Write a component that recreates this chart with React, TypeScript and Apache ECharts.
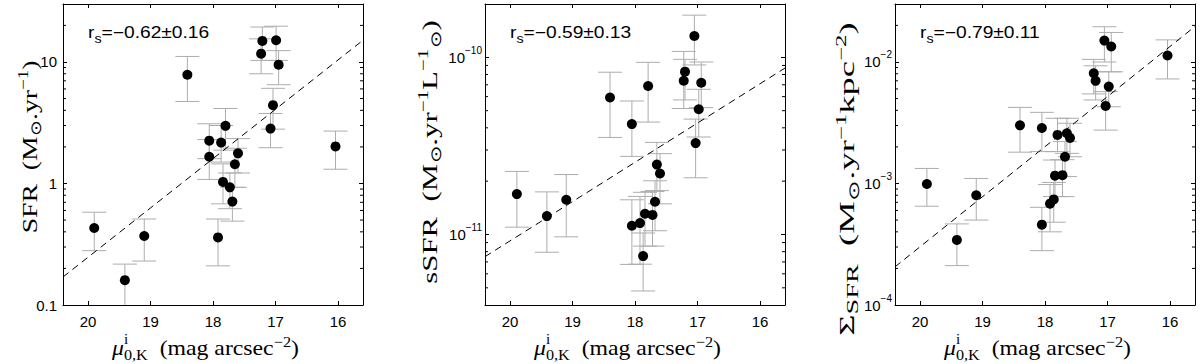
import React, { useEffect, useRef } from 'react';
import * as echarts from 'echarts';

// ---------- data ----------
// x: central surface brightness mu^i_{0,K} (mag arcsec^-2)
const X_MIN = 15.6;
const X_MAX = 20.4;

// Panel 1: SFR (Msun/yr)
const MU_SFR = [19.90, 19.41, 19.10, 18.41, 18.06, 18.06, 17.87, 17.80, 17.84, 17.60, 17.65, 17.73, 17.69, 17.92, 17.21, 17.23, 16.99, 16.95, 17.04, 17.08, 16.04];
const SFR = [0.43, 0.16, 0.37, 7.85, 2.25, 1.66, 2.17, 2.98, 1.03, 1.77, 1.44, 0.93, 0.71, 0.36, 14.9, 11.7, 15.1, 9.5, 4.41, 2.83, 2.02];
const SFR_LO = [0.28, 0.085, 0.23, 4.73, 1.6, 1.08, 1.5, 1.88, 0.68, 1.22, 0.93, 0.62, 0.49, 0.21, 10.3, 8.0, 10.3, 6.5, 2.8, 1.97, 1.31];
const SFR_HI = [0.58, 0.217, 0.51, 11.1, 3.1, 2.3, 3.0, 4.14, 1.45, 2.34, 1.95, 1.22, 0.93, 0.51, 19.4, 15.5, 19.7, 12.4, 6.07, 3.77, 2.7];
const FIT_MU = [20.4, 15.6];
const FIT_SFR = [0.17, 15.1];

// Panel 2: sSFR (Msun/yr/Lsun)
const MU_SSFR = [19.89, 19.41, 19.10, 18.40, 18.05, 17.79, 18.05, 17.92, 17.84, 17.87, 17.72, 17.68, 17.65, 17.60, 17.22, 17.20, 17.05, 16.94, 16.98, 17.03];
const SSFR = [1.69e-11, 1.27e-11, 1.57e-11, 5.93e-11, 4.20e-11, 6.89e-11, 1.12e-11, 1.16e-11, 1.31e-11, 7.55e-12, 1.29e-11, 1.53e-11, 2.48e-11, 2.21e-11, 7.38e-11, 8.30e-11, 1.32e-10, 7.19e-11, 5.09e-11, 3.28e-11];
const SSFR_LO = [1.10e-11, 7.94e-12, 9.7e-12, 3.53e-11, 2.76e-11, 4.31e-11, 6.78e-12, 6.8e-12, 8.6e-12, 4.8e-12, 8.6e-12, 1.05e-11, 1.77e-11, 1.49e-11, 5.14e-11, 5.75e-11, 9.06e-11, 5.2e-11, 3.55e-11, 2.09e-11];
const SSFR_HI = [2.27e-11, 1.74e-11, 2.18e-11, 8.24e-11, 5.67e-11, 9.37e-11, 1.57e-11, 1.64e-11, 1.73e-11, 1.02e-11, 1.75e-11, 2.01e-11, 3.31e-11, 2.86e-11, 1.08e-10, 9.74e-11, 1.73e-10, 9.41e-11, 6.6e-11, 4.48e-11];
const FIT_SSFR = [7.5e-12, 8.7e-11];

// Panel 3: Sigma_SFR (Msun/yr/kpc^2)
const MU_SIG = [19.89, 19.41, 19.10, 18.40, 18.05, 18.05, 17.92, 17.86, 17.84, 17.80, 17.72, 17.68, 17.65, 17.60, 17.22, 17.19, 17.05, 16.94, 16.98, 17.03, 16.04];
const SIG = [9.9e-4, 3.43e-4, 8.0e-4, 3.01e-3, 2.86e-3, 4.58e-4, 6.82e-4, 7.4e-4, 1.16e-3, 2.51e-3, 1.17e-3, 1.66e-3, 2.59e-3, 2.37e-3, 8.07e-3, 7.0e-3, 1.50e-2, 1.34e-2, 6.27e-3, 4.35e-3, 1.13e-2];
const SIG_LO = [6.5e-4, 2.11e-4, 5.0e-4, 1.81e-3, 1.83e-3, 2.8e-4, 4.0e-4, 4.8e-4, 7.8e-4, 1.83e-3, 7.8e-4, 1.14e-3, 1.77e-3, 1.66e-3, 5.46e-3, 4.87e-3, 1.0e-2, 8.3e-3, 4.28e-3, 2.75e-3, 7.25e-3];
const SIG_HI = [1.33e-3, 4.65e-4, 1.10e-3, 4.23e-3, 3.85e-3, 6.37e-4, 9.8e-4, 1.02e-3, 1.56e-3, 3.44e-3, 1.57e-3, 2.21e-3, 3.44e-3, 3.13e-3, 1.05e-2, 9.3e-3, 1.95e-2, 1.75e-2, 8.3e-3, 5.7e-3, 1.52e-2];
const FIT_SIG = [2.06e-4, 1.96e-2];

// axis ranges and minor log ticks
const Y_RANGES = [[0.1, 30], [4e-12, 2e-10], [1e-4, 3e-2]];
const MINOR_SFR = [0.2, 0.3, 0.4, 0.5, 0.6, 0.7, 0.8, 0.9, 2, 3, 4, 5, 6, 7, 8, 9, 20];
const MINOR_SSFR = [5e-12, 6e-12, 7e-12, 8e-12, 9e-12, 2e-11, 3e-11, 4e-11, 5e-11, 6e-11, 7e-11, 8e-11, 9e-11];
const MINOR_SIG = [2e-4, 3e-4, 4e-4, 5e-4, 6e-4, 7e-4, 8e-4, 9e-4, 2e-3, 3e-3, 4e-3, 5e-3, 6e-3, 7e-3, 8e-3, 9e-3, 2e-2];

const RS_TEXT = ['=\u22120.62\u00b10.16', '=\u22120.59\u00b10.13', '=\u22120.79\u00b10.11'];

// ---------- layout / style ----------
const SANS = '"Liberation Sans", Arial, Helvetica, sans-serif';
const SERIF = '"Liberation Serif", "Times New Roman", serif';
const LEFTS = [63, 485, 895];
const TOP = 4;
const W = 300;
const H = 301;
const ERR_COLOR = '#adadad';

function isPow10(v: number) {
  const l = Math.log10(v);
  return Math.abs(l - Math.round(l)) < 1e-6;
}

const fmtX = (v: number) => (Math.abs(v - Math.round(v)) < 1e-6 ? String(Math.round(v)) : '');
const fmtPlain = (v: number) => (isPow10(v) ? String(Number(v.toPrecision(3))) : '');
const fmtSci = (v: number) =>
  isPow10(v) ? `{b|10}{s|\u2212${Math.abs(Math.round(Math.log10(v)))}}` : '';

const titleRich = {
  n: { fontFamily: SERIF, fontSize: 22, lineHeight: 28, color: '#000' },
  it: { fontFamily: SERIF, fontSize: 22, lineHeight: 28, fontStyle: 'italic', color: '#000' },
  sup: { fontFamily: SERIF, fontSize: 15, lineHeight: 16, verticalAlign: 'top', color: '#000' },
  sub: { fontFamily: SERIF, fontSize: 15, lineHeight: 12, verticalAlign: 'bottom', color: '#000' },
  subX: { fontFamily: SERIF, fontSize: 15, lineHeight: 16, verticalAlign: 'bottom', color: '#000' },
  subL: { fontFamily: SERIF, fontSize: 17, lineHeight: 12, verticalAlign: 'bottom', color: '#000' },
};

function buildOption() {
  const panels = [
    { mu: MU_SFR, v: SFR, lo: SFR_LO, hi: SFR_HI, fit: FIT_SFR, minor: MINOR_SFR, sci: false, margin: 6 },
    { mu: MU_SSFR, v: SSFR, lo: SSFR_LO, hi: SSFR_HI, fit: FIT_SSFR, minor: MINOR_SSFR, sci: true, margin: 3 },
    { mu: MU_SIG, v: SIG, lo: SIG_LO, hi: SIG_HI, fit: FIT_SIG, minor: MINOR_SIG, sci: true, margin: 3 },
  ];

  const grid: any[] = [];
  const xAxis: any[] = [];
  const yAxis: any[] = [];
  const series: any[] = [];
  const elements: any[] = [];

  const axLine = { show: true, onZero: false, lineStyle: { color: '#000', width: 1 } };
  const axTick = { show: true, inside: true, length: 4, lineStyle: { color: '#000', width: 1 } };

  panels.forEach((p, i) => {
    grid.push({ left: LEFTS[i], top: TOP, width: W, height: H, containLabel: false, outerBoundsMode: 'none' });
    const xc = {
      gridIndex: i, type: 'value', min: X_MIN, max: X_MAX, inverse: true, splitNumber: 5,
      splitLine: { show: false }, axisLine: axLine, axisTick: axTick,
    };
    xAxis.push({
      ...xc, position: 'bottom',
      axisLabel: { show: true, formatter: fmtX, color: '#000', fontFamily: SANS, fontSize: 15, margin: 9 },
    });
    xAxis.push({ ...xc, position: 'top', axisLabel: { show: false } });
    const yc = {
      gridIndex: i, type: 'log', logBase: 10, min: Y_RANGES[i][0], max: Y_RANGES[i][1],
      splitLine: { show: false }, minorTick: { show: false }, axisLine: axLine, axisTick: axTick,
    };
    yAxis.push({
      ...yc, position: 'left',
      axisLabel: p.sci
        ? {
            show: true, formatter: fmtSci, margin: p.margin,
            rich: {
              b: { fontFamily: SANS, fontSize: 15, lineHeight: 24, color: '#000' },
              s: { fontFamily: SANS, fontSize: 10, lineHeight: 12, verticalAlign: 'top', color: '#000' },
            },
          }
        : { show: true, formatter: fmtPlain, margin: p.margin, color: '#000', fontFamily: SANS, fontSize: 15 },
    });
    yAxis.push({ ...yc, position: 'right', axisLabel: { show: false } });

    const xi = 2 * i;
    // error bars
    series.push({
      type: 'custom', xAxisIndex: xi, yAxisIndex: xi, clip: true, silent: true, z: 2,
      encode: { x: 0, y: 1 },
      data: p.mu.map((m, k) => [m, p.v[k], p.lo[k], p.hi[k]]),
      renderItem: (_params: any, api: any) => {
        const x = api.value(0);
        const a = api.coord([x, api.value(2)]);
        const b = api.coord([x, api.value(3)]);
        const hw = 12;
        const st = { stroke: ERR_COLOR, lineWidth: 1 };
        return {
          type: 'group',
          children: [
            { type: 'line', shape: { x1: a[0], y1: a[1], x2: b[0], y2: b[1] }, style: st },
            { type: 'line', shape: { x1: a[0] - hw, y1: a[1], x2: a[0] + hw, y2: a[1] }, style: st },
            { type: 'line', shape: { x1: b[0] - hw, y1: b[1], x2: b[0] + hw, y2: b[1] }, style: st },
          ],
        };
      },
    });
    // fit line
    series.push({
      type: 'line', xAxisIndex: xi, yAxisIndex: xi, z: 3, silent: true, symbol: 'none',
      data: FIT_MU.map((m, k) => [m, p.fit[k]]),
      lineStyle: { color: '#000', width: 1, type: [7, 5], opacity: 1 },
    });
    // points
    series.push({
      type: 'scatter', xAxisIndex: xi, yAxisIndex: xi, z: 4, silent: true,
      symbol: 'circle', symbolSize: 10, itemStyle: { color: '#000', opacity: 1, borderWidth: 0 },
      data: p.mu.map((m, k) => [m, p.v[k]]),
    });
    // minor log ticks (left and right edges)
    series.push({
      type: 'custom', xAxisIndex: xi, yAxisIndex: xi, z: 5, silent: true,
      encode: { x: 0, y: 1 },
      data: p.minor.map((v) => [18, v]),
      renderItem: (params: any, api: any) => {
        const cs = params.coordSys;
        const y = api.coord([18, api.value(1)])[1];
        const st = { stroke: '#000', lineWidth: 1 };
        return {
          type: 'group',
          children: [
            { type: 'line', shape: { x1: cs.x, y1: y, x2: cs.x + 3, y2: y }, style: st },
            { type: 'line', shape: { x1: cs.x + cs.width - 3, y1: y, x2: cs.x + cs.width, y2: y }, style: st },
          ],
        };
      },
    });

    // r_s annotation
    elements.push({
      type: 'text', x: LEFTS[i] + 25, y: 33, scaleX: 1.2, silent: true,
      style: {
        text: `{n|r}{sub|s}{n|${RS_TEXT[i]}}`,
        align: 'left', verticalAlign: 'middle', textAlign: 'left', textVerticalAlign: 'middle',
        fill: '#000',
        rich: {
          n: { fontFamily: SANS, fontSize: 16, lineHeight: 24, color: '#000' },
          sub: { fontFamily: SANS, fontSize: 12, lineHeight: 4, verticalAlign: 'bottom', color: '#000' },
        },
      },
    });
    // x-axis title
    elements.push({
      type: 'text', x: LEFTS[i] + 49, y: 348, scaleX: 1.08, silent: true,
      style: {
        text: '{it|\u03bc}{subX|0,K}{n|  (mag arcsec}{sup|\u22122}{n|)}',
        align: 'left', verticalAlign: 'middle', textAlign: 'left', textVerticalAlign: 'middle',
        fill: '#000', rich: titleRich,
      },
    });
    elements.push({
      type: 'text', x: LEFTS[i] + 61, y: 339, silent: true,
      style: {
        text: 'i', fontFamily: SERIF, fontSize: 15, fill: '#000',
        align: 'left', verticalAlign: 'middle', textAlign: 'left', textVerticalAlign: 'middle',
      },
    });
  });

  const yTitles = [
    { text: '{n|SFR  (M}{sub|\u2299}{n|.yr}{sup|\u22121}{n|)}', x: 30, y: 147, s: 1.26 },
    { text: '{n|sSFR  (M}{sub|\u2299}{n|.yr}{sup|\u22121}{n|L}{sup|\u22121}{sub|\u2299}{n|)}', x: 430, y: 152, s: 1.4 },
    { text: '{n|\u03a3}{subL|SFR}{n|  (M}{sub|\u2299}{n|.yr}{sup|\u22121}{n|kpc}{sup|\u22122}{n|)}', x: 847, y: 179, s: 1.66 },
  ];
  yTitles.forEach((t) => {
    elements.push({
      type: 'text', x: t.x, y: t.y, rotation: Math.PI / 2, scaleX: t.s, silent: true,
      style: {
        text: t.text, fill: '#000', rich: titleRich,
        align: 'center', verticalAlign: 'middle', textAlign: 'center', textVerticalAlign: 'middle',
      },
    });
  });

  return {
    animation: false,
    backgroundColor: '#fff',
    grid, xAxis, yAxis, series,
    graphic: { elements },
  };
}

export default function App() {
  const ref = useRef<HTMLDivElement>(null);
  useEffect(() => {
    if (!ref.current) return;
    const chart = echarts.init(ref.current, null, { renderer: 'svg' });
    chart.setOption(buildOption() as any);
    return () => chart.dispose();
  }, []);
  return (
    <div
      ref={ref}
      style={{ position: 'absolute', left: 0, top: 0, width: 1200, height: 364, background: '#fff' }}
    />
  );
}
